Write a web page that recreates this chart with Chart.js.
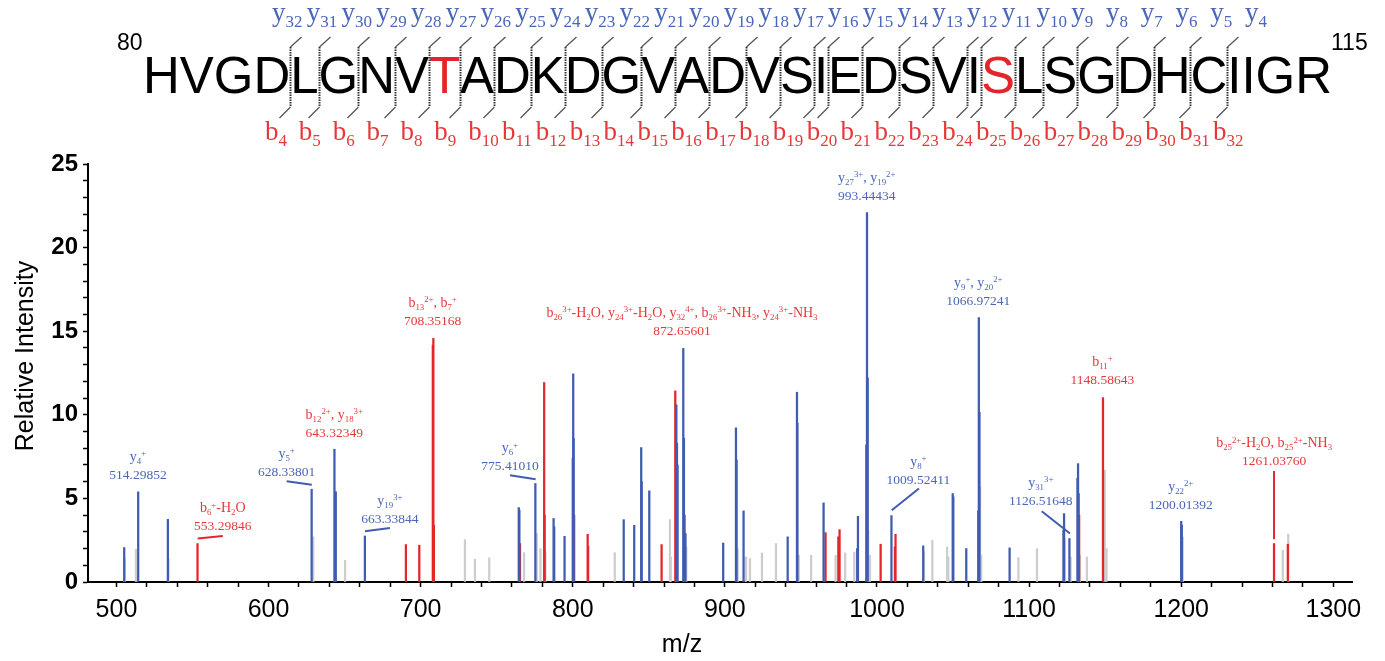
<!DOCTYPE html>
<html>
<head>
<meta charset="utf-8">
<script src="https://cdn.jsdelivr.net/npm/chart.js@4.4.0/dist/chart.umd.min.js"></script>
<style>
  html, body { margin: 0; padding: 0; background: #fff; }
</style>
</head>
<body>
<canvas id="espectro" width="1385" height="661"></canvas>
<script>
// peptide and fragment ladder
const sequence = "HVGDLGNVTADKDGVADVSIEDSVISLSGDHCIIGR";
const firstResidue = 80;
const lastResidue = 115;
const modifiedSites = [8, 25];
const cleavages = [4, 5, 6, 7, 8, 9, 10, 11, 12, 13, 14, 15, 16, 17, 18, 19, 20, 21, 22, 23, 24, 25, 26, 27, 28, 29, 30, 31, 32];

// axis ticks (labels only on the hundreds)
const xTicks = [500, 520, 540, 560, 580, 600, 620, 640, 660, 680, 700, 720, 740, 760, 780, 800, 820, 840, 860, 880,
  900, 920, 940, 960, 980, 1000, 1020, 1040, 1060, 1080, 1100, 1120, 1140, 1160, 1180, 1200, 1220, 1240, 1260, 1280, 1300];

// peaks (m/z, relative intensity)
const blueMz = [505.1, 514.30, 533.8, 628.34, 643.32, 644.2, 663.34, 764.5, 764.9, 775.41, 787.4, 787.8, 794.6,
  800.0, 800.3, 800.6, 833.5, 840.4, 845.0, 845.3, 850.3, 868.1, 868.5, 868.9, 872.66, 873.1, 873.5, 874.1,
  898.9, 907.3, 907.7, 912.3, 941.3, 947.4, 947.7, 964.9, 987.0, 987.5, 993.0, 993.44, 993.9, 1009.52,
  1030.4, 1049.8, 1050.2, 1058.7, 1066.6, 1066.97, 1067.4, 1087.2, 1122.6, 1123.0, 1126.52, 1131.8, 1132.2,
  1200.01, 1200.4];
const blueInt = [2.06, 5.39, 3.75, 5.55, 7.94, 5.40, 2.75, 4.45, 4.30, 5.89, 3.80, 3.30, 2.73,
  7.40, 12.45, 8.58, 3.73, 3.39, 8.04, 6.00, 5.45, 10.60, 8.30, 7.00, 13.97, 8.60, 4.00, 2.90,
  2.33, 9.22, 7.30, 4.25, 2.70, 11.35, 9.50, 4.73, 2.00, 3.93, 8.20, 22.10, 12.20, 3.97,
  2.16, 5.29, 5.10, 2.00, 4.25, 15.82, 10.15, 2.04, 3.10, 4.09, 2.60, 6.20, 7.08,
  3.63, 3.40];

const redMz = [553.30, 690.3, 699.1, 708.0, 708.35, 708.7, 765.3, 781.2, 781.5, 800.9, 809.8, 810.1, 858.4,
  867.4, 966.2, 974.6, 975.4, 1002.4, 1011.8, 1012.2, 1132.6, 1132.9, 1148.59, 1261.04, 1270.1];
const redInt = [2.30, 2.24, 2.20, 14.17, 14.57, 3.40, 2.30, 11.93, 4.00, 4.00, 2.85, 2.14, 2.24,
  11.43, 2.95, 2.70, 3.13, 2.26, 2.10, 2.85, 5.29, 4.00, 11.03, 2.30, 2.26];

const grayMz = [505.4, 512.8, 534.2, 629.4, 643.6, 650.3, 729.1, 735.7, 745.1, 768.0, 776.3, 778.8, 782.0,
  827.6, 863.9, 864.4, 874.6, 908.4, 913.9, 916.5, 924.4, 933.6, 948.6, 956.7, 972.8, 979.1, 985.1,
  994.2, 995.4, 1030.9, 1036.4, 1046.1, 1046.9, 1067.8, 1068.6, 1093.0, 1105.2, 1123.4, 1127.3, 1133.4,
  1138.0, 1149.7, 1150.9, 1201.0, 1266.8, 1270.4];
const grayInt = [1.40, 1.96, 1.40, 2.70, 1.50, 1.30, 2.54, 1.36, 1.44, 1.76, 2.90, 2.00, 1.80,
  1.76, 3.73, 1.50, 2.10, 2.00, 1.50, 1.40, 1.74, 2.30, 1.60, 1.60, 1.60, 1.74, 1.80,
  3.10, 1.60, 1.80, 2.50, 2.10, 1.50, 5.70, 1.60, 1.46, 2.00, 2.60, 1.50, 1.60,
  1.50, 6.68, 2.00, 2.70, 1.90, 2.85];

// peak annotations
const ionNames = ["y_{4}^{+}", "b_{6}^{+}-H_{2}O", "y_{5}^{+}", "b_{12}^{2+}, y_{18}^{3+}", "y_{19}^{3+}",
  "b_{13}^{2+}, b_{7}^{+}", "y_{6}^{+}",
  "b_{26}^{3+}-H_{2}O, y_{24}^{3+}-H_{2}O, y_{32}^{4+}, b_{26}^{3+}-NH_{3}, y_{24}^{3+}-NH_{3}",
  "y_{27}^{3+}, y_{19}^{2+}", "y_{9}^{+}, y_{20}^{2+}", "y_{8}^{+}", "y_{31}^{3+}", "b_{11}^{+}",
  "y_{22}^{2+}", "b_{25}^{2+}-H_{2}O, b_{25}^{2+}-NH_{3}"];
const ionMz = ["514.29852", "553.29846", "628.33801", "643.32349", "663.33844", "708.35168", "775.41010",
  "872.65601", "993.44434", "1066.97241", "1009.52411", "1126.51648", "1148.58643", "1200.01392", "1261.03760"];
const ionType = ["y", "b", "y", "b", "y", "b", "y", "b", "y", "y", "y", "y", "b", "y", "b"];

// where each annotation sits, in axis units (centre, baseline of the m/z line)
const spotX = [514.2, 569.9, 611.9, 643.2, 679.8, 707.9, 758.7, 871.8, 993.3, 1066.6, 1027.2, 1107.7, 1148.2, 1199.7, 1261.1];
const spotY = [6.18, 3.09, 6.33, 8.68, 3.53, 15.36, 6.68, 14.76, 22.84, 16.56, 5.89, 4.59, 11.87, 4.39, 6.98];

// leader lines: x1, y1, x2, y2, type
const leaders = [
  [611.9, 6.02, 628.4, 5.82, "y"],
  [553.4, 2.60, 569.9, 2.75, "b"],
  [663.4, 3.03, 679.8, 3.23, "y"],
  [758.7, 6.39, 775.6, 6.15, "y"],
  [1009.7, 4.29, 1027.6, 5.59, "y"],
  [1108.3, 4.23, 1126.9, 2.90, "y"],
  [1261.04, 6.64, 1261.04, 2.56, "b"]
];

const AZUL = "#3f5cb0";
const AZUL_TXT = "#4a66b8";
const VERMELHO = "#e3262b";
const VERMELHO_TXT = "#e5383a";
const CINZA = "#cdcdcd";
const SANS = '"Liberation Sans", Arial, sans-serif';
const SERIF = '"Liberation Serif", "Times New Roman", serif';

function pontos(xs, ys) {
  return xs.map((x, i) => ({ x: x, y: ys[i] }));
}

function partesRich(str) {
  const partes = [];
  const re = /([_^])\{([^}]*)\}|([^_^]+)/g;
  let m;
  while ((m = re.exec(str))) {
    if (m[3]) partes.push({ t: m[3], k: "n" });
    else partes.push({ t: m[2], k: m[1] === "_" ? "sub" : "sup" });
  }
  return partes;
}

// draws text with _{sub} and ^{sup}, returns its width
function desenharRich(ctx, str, x, y, size, family, align) {
  const partes = partesRich(str);
  const pequeno = size * 0.63;
  let w = 0;
  partes.forEach(p => {
    ctx.font = (p.k === "n" ? size : pequeno) + "px " + family;
    p.w = ctx.measureText(p.t).width;
    w += p.w;
  });
  let cx = align === "center" ? x - w / 2 : x;
  partes.forEach(p => {
    ctx.font = (p.k === "n" ? size : pequeno) + "px " + family;
    const dy = p.k === "sub" ? size * 0.22 : (p.k === "sup" ? -size * 0.34 : 0);
    ctx.fillText(p.t, cx, y + dy);
    cx += p.w;
  });
  return w;
}

function desenharCabecalho(ctx) {
  ctx.save();
  ctx.textBaseline = "alphabetic";
  ctx.textAlign = "left";
  ctx.font = "51px " + SANS;
  const letras = sequence.split("");
  const larguras = letras.map(ch => ctx.measureText(ch).width);
  const total = larguras.reduce((a, b) => a + b, 0);
  const esq = 143, dir = 1332;
  const sx = (dir - esq) / total;
  const bordas = [esq];
  let x = esq;
  letras.forEach((ch, i) => {
    ctx.save();
    ctx.translate(x, 93);
    ctx.scale(sx, 1);
    ctx.fillStyle = modifiedSites.includes(i) ? VERMELHO : "#000";
    ctx.fillText(ch, 0, 0);
    ctx.restore();
    x += larguras[i] * sx;
    bordas.push(x);
  });

  ctx.fillStyle = "#000";
  ctx.font = "23px " + SANS;
  ctx.fillText(String(firstResidue), 117, 50);
  ctx.fillText(String(lastResidue), 1331, 50);

  // ion labels are spread evenly over the ladder
  const n = cleavages.length;
  const y0 = 272, y1 = 1245, b0 = 265, b1 = 1213;
  cleavages.forEach((c, k) => {
    const bx = Math.round(bordas[c]) + 0.5;
    ctx.strokeStyle = "#333";
    ctx.lineWidth = 2;
    ctx.setLineDash([1.5, 1]);
    ctx.beginPath();
    ctx.moveTo(bx, 47);
    ctx.lineTo(bx, 107);
    ctx.stroke();
    ctx.setLineDash([]);
    ctx.lineWidth = 1.3;
    ctx.strokeStyle = "#555";
    ctx.beginPath();
    ctx.moveTo(bx, 47);
    ctx.lineTo(bx + 11, 37);
    ctx.moveTo(bx, 107);
    ctx.lineTo(bx - 11, 118);
    ctx.stroke();

    ctx.fillStyle = AZUL_TXT;
    desenharRich(ctx, "y_{" + (sequence.length - c) + "}", y0 + (y1 - y0) * k / (n - 1), 21, 27, SERIF, "left");
    ctx.fillStyle = VERMELHO_TXT;
    desenharRich(ctx, "b_{" + c + "}", b0 + (b1 - b0) * k / (n - 1), 140, 27, SERIF, "left");
  });
  ctx.restore();
}

const pluginAnotacoes = {
  id: "anotacoes",
  afterDraw(chart) {
    const ctx = chart.ctx;
    const xs = chart.scales.x;
    const ys = chart.scales.y;
    desenharCabecalho(ctx);

    ctx.save();
    ctx.lineWidth = 2;
    leaders.forEach(l => {
      ctx.strokeStyle = l[4] === "b" ? VERMELHO : AZUL;
      ctx.beginPath();
      ctx.moveTo(xs.getPixelForValue(l[0]), ys.getPixelForValue(l[1]));
      ctx.lineTo(xs.getPixelForValue(l[2]), ys.getPixelForValue(l[3]));
      ctx.stroke();
    });

    ctx.textBaseline = "alphabetic";
    ionNames.forEach((nome, i) => {
      const px = xs.getPixelForValue(spotX[i]);
      const py = ys.getPixelForValue(spotY[i]);
      ctx.fillStyle = ionType[i] === "b" ? VERMELHO_TXT : AZUL_TXT;
      desenharRich(ctx, nome, px, py - 18, 14, SERIF, "center");
      ctx.font = "13.5px " + SERIF;
      ctx.textAlign = "center";
      ctx.fillText(ionMz[i], px, py);
      ctx.textAlign = "left";
    });

    // axis titles
    ctx.fillStyle = "#000";
    ctx.font = "25px " + SANS;
    ctx.textAlign = "center";
    ctx.fillText("m/z", 682, 652);
    ctx.translate(33, 356);
    ctx.rotate(-Math.PI / 2);
    ctx.fillText("Relative Intensity", 0, 0);
    ctx.restore();
  }
};

const ctx = document.getElementById("espectro").getContext("2d");

new Chart(ctx, {
  type: "bar",
  data: {
    datasets: [
      { label: "y", data: pontos(blueMz, blueInt), backgroundColor: AZUL },
      { label: "b", data: pontos(redMz, redInt), backgroundColor: VERMELHO },
      { label: "outros", data: pontos(grayMz, grayInt), backgroundColor: CINZA }
    ]
  },
  options: {
    responsive: false,
    animation: false,
    events: [],
    grouped: false,
    barThickness: 1.6,
    borderWidth: 0,
    layout: { padding: { top: 164, right: 33, left: 0, bottom: 0 } },
    plugins: {
      legend: { display: false },
      tooltip: { enabled: false }
    },
    scales: {
      x: {
        type: "linear",
        min: 481.3,
        max: 1312.3,
        offset: false,
        border: { color: "#000", width: 2 },
        grid: {
          offset: false,
          drawOnChartArea: false,
          tickLength: 5,
          tickWidth: 1.5,
          tickColor: "#000"
        },
        afterBuildTicks: s => { s.ticks = xTicks.map(v => ({ value: v })); },
        ticks: {
          autoSkip: false,
          maxRotation: 0,
          padding: 8,
          color: "#000",
          font: { family: SANS, size: 25 },
          callback: v => (v % 100 === 0 ? v : "")
        },
        afterFit: s => { s.height = 79; }
      },
      y: {
        min: 0,
        max: 25,
        border: { color: "#000", width: 2 },
        grid: {
          drawOnChartArea: false,
          tickLength: 5,
          tickWidth: 1.5,
          tickColor: "#000"
        },
        ticks: {
          stepSize: 1,
          autoSkip: false,
          padding: 5,
          color: "#000",
          font: { family: SANS, size: 24, weight: "bold" },
          callback: v => (v % 5 === 0 ? v : "")
        },
        afterFit: s => { s.width = 88; }
      }
    }
  },
  plugins: [pluginAnotacoes]
});
</script>
</body>
</html>
